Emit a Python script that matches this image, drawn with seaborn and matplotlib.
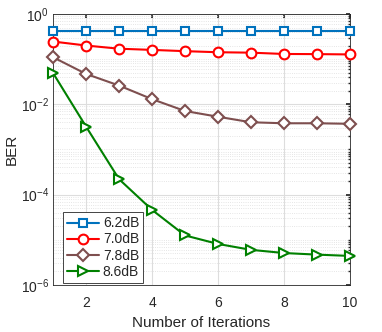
import numpy as np
import pandas as pd
import matplotlib
matplotlib.use("Agg")
import matplotlib.pyplot as plt
import seaborn as sns
from matplotlib.ticker import LogLocator, NullFormatter

iterations = [1, 2, 3, 4, 5, 6, 7, 8, 9, 10]
labels = ["6.2dB", "7.0dB", "7.8dB", "8.6dB"]
ber_62 = [0.42, 0.42, 0.42, 0.42, 0.42, 0.42, 0.42, 0.42, 0.42, 0.42]
ber_70 = [0.245, 0.20, 0.17, 0.16, 0.15, 0.142, 0.139, 0.130, 0.129, 0.127]
ber_78 = [0.11, 0.047, 0.026, 0.013, 0.0071, 0.0053, 0.0040, 0.0038, 0.0038, 0.0037]
ber_86 = [0.049, 0.0032, 2.2e-4, 4.6e-5, 1.25e-5, 8.1e-6, 6.0e-6, 5.1e-6, 4.7e-6, 4.4e-6]

colors = ["#0072BD", "#FF0000", "#7E4F4F", "#008000"]
markers = ["s", "o", "D", ">"]
msizes = [5.5, 7, 6, 7.5]

sns.set_theme(style="white")
plt.rcParams["font.family"] = ["Liberation Sans", "DejaVu Sans"]
plt.rcParams["mathtext.fontset"] = "custom"
plt.rcParams["mathtext.rm"] = "Liberation Sans"
plt.rcParams["mathtext.it"] = "Liberation Sans:italic"
plt.rcParams["mathtext.bf"] = "Liberation Sans:bold"

fig = plt.figure(figsize=(3.82, 3.32), dpi=100)
ax = fig.add_axes([0.139, 0.1416, 0.777, 0.8164])

for lab, vals, c, m, ms in zip(labels, [ber_62, ber_70, ber_78, ber_86], colors, markers, msizes):
    df = pd.DataFrame({"Iteration": iterations, "BER": vals})
    sns.lineplot(data=df, x="Iteration", y="BER", ax=ax, color=c, marker=m,
                 markersize=ms, markerfacecolor="white", markeredgecolor=c,
                 markeredgewidth=1.5, linewidth=1.5, label=lab, legend=False,
                 clip_on=False, zorder=3)

ax.set_yscale("log")
ax.set_xlim(1, 10)
ax.set_ylim(1e-6, 1)
ax.set_xticks([2, 4, 6, 8, 10])
ax.set_yticks([1e-6, 1e-4, 1e-2, 1e0])
ax.yaxis.set_minor_locator(LogLocator(base=10, subs=np.arange(1, 10), numticks=20))
ax.yaxis.set_minor_formatter(NullFormatter())
ax.set_yticklabels([r"$\mathregular{10^{-6}}$", r"$\mathregular{10^{-4}}$",
                    r"$\mathregular{10^{-2}}$", r"$\mathregular{10^{0}}$"])

ax.grid(True, which="major", color="#DDDDDD", linewidth=0.8, linestyle="-")
ax.grid(True, which="minor", axis="y", color="#DDDDDD", linewidth=0.6, linestyle=":")
ax.set_axisbelow(True)

ax.tick_params(which="both", direction="in", top=True, right=True, labelsize=10,
               colors="#262626", labelcolor="#262626")
ax.tick_params(which="major", length=3)
ax.tick_params(which="minor", length=1.5)
ax.tick_params(axis="x", which="major", pad=8)
ax.tick_params(axis="y", which="major", pad=3)
for s in ax.spines.values():
    s.set_color("#262626")
    s.set_linewidth(0.6)

ax.set_xlabel("Number of Iterations", fontsize=11, color="#262626", labelpad=4)
ax.set_ylabel("BER", fontsize=11, color="#262626", labelpad=1)

leg = ax.legend(loc="lower left", bbox_to_anchor=(0.034, 0.008), borderaxespad=0,
                fontsize=10, frameon=True, fancybox=False,
                edgecolor="#262626", framealpha=1,
                handlelength=2.3, handletextpad=0.25, labelspacing=0.15,
                borderpad=0.3)
leg.get_frame().set_linewidth(0.6)

fig.savefig("out.png", dpi=100)
